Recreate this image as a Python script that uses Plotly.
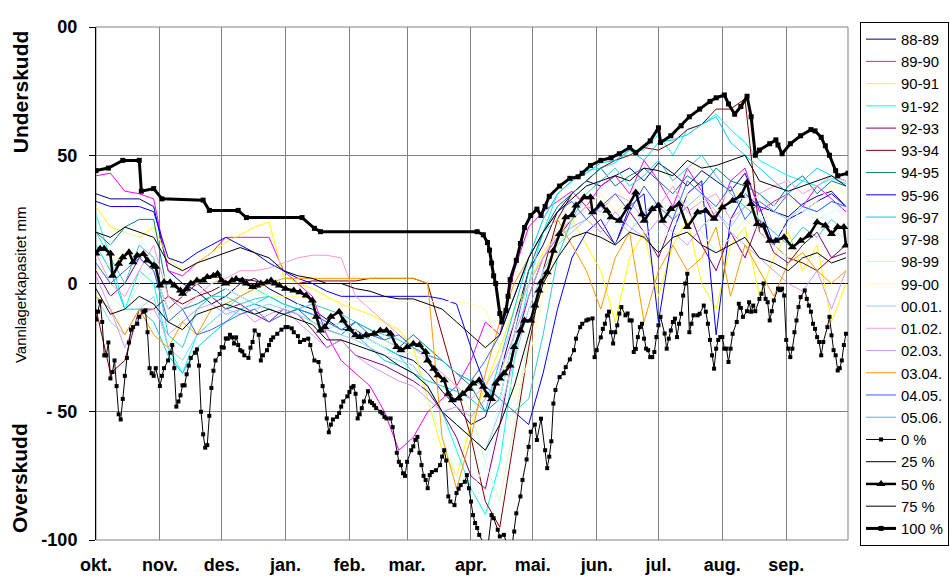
import plotly.graph_objects as go

FONT = "Arial, 'Liberation Sans', sans-serif"

# ---------------- axis categories ----------------
months = ["okt.", "nov.", "des.", "jan.", "feb.", "mar.", "apr.", "mai.", "jun.", "jul.", "aug.", "sep."]
month_start = [0, 31, 61, 92, 123, 151, 182, 212, 243, 273, 304, 335]
week_days = list(range(0, 365, 7))  # 53 weekly sample days (day 0 = 1. okt.)

y_tickvals = [-100, -50, 0, 50, 100]
y_ticktext = ["-100", "- 50", "0", "50", "00"]

# ---------------- yearly series (weekly readings) ----------------
year_names = ["88-89", "89-90", "90-91", "91-92", "92-93", "93-94", "94-95", "95-96", "96-97",
              "97-98", "98-99", "99-00", "00.01.", "01.02.", "02.03.", "03.04.", "04.05.", "05.06."]
year_colors = ["#000080", "#FF00FF", "#FFFF00", "#00FFFF", "#800080", "#800000", "#008080", "#0000FF",
               "#00CCFF", "#CCFFFF", "#CCFFCC", "#FFFF99", "#99CCFF", "#FF99CC", "#CC99FF", "#FF9900",
               "#3366FF", "#33CCCC"]

y8889 = [35,33,33,33,30,5,0,-3,-8,-5,0,2,-2,-5,-8,-10,-14,-18,-18,-22,-25,-28,-30,-35,-42,-48,-55,-52,-35,-15,5,15,28,35,40,38,42,45,40,47,43,38,44,40,36,43,30,28,26,31,34,36,30]
y8990 = [42,43,36,35,33,5,3,8,12,18,18,18,18,5,0,-5,-20,-30,-35,-40,-50,-65,-60,-50,-45,-40,-30,-15,-20,5,22,28,32,36,30,38,42,35,48,40,30,45,36,25,40,45,28,32,35,30,38,33,28]
y9091 = [30,22,20,18,22,10,5,8,12,16,19,22,24,3,0,-2,-5,-8,-10,-12,-15,-18,-25,-45,-65,-75,-55,-40,-25,-10,0,12,20,25,15,5,-15,10,20,-5,15,25,0,-10,15,22,-5,10,20,5,15,-15,0]
y9192 = [27,10,-10,5,0,-25,-35,-20,-15,-10,-5,-2,-5,-8,-10,-12,-15,-18,-20,-22,-25,-28,-35,-40,-50,-65,-80,-90,-70,-30,0,20,35,40,44,45,47,52,52,58,50,60,62,66,60,55,48,45,42,40,38,41,39]
y9293 = [5,-5,0,10,5,-10,-5,0,-5,-10,-8,-12,-15,-10,-12,-18,-25,-22,-28,-30,-32,-35,-38,-42,-50,-60,-75,-80,-55,-25,-5,10,18,25,30,22,15,28,20,10,25,30,15,5,20,10,25,12,8,15,20,10,12]
y9394 = [-10,-35,-30,-10,-10,-5,-8,-5,-3,0,2,1,0,0,0,1,1,1,1,2,2,2,2,0,-20,-40,-60,-85,-95,-60,-25,5,25,35,40,45,48,50,53,52,55,60,62,68,68,72,20,15,10,8,5,10,15]
y9495 = [20,15,22,25,25,-5,-10,-8,-5,-2,-5,-8,-10,-12,-10,-15,-18,-20,-15,-18,-22,-25,-20,-25,-30,-35,-40,-50,-45,-20,5,20,30,35,40,45,38,42,45,40,35,42,38,45,40,38,35,30,38,42,35,40,38]
y9596 = [32,30,30,30,28,10,8,12,15,18,15,12,8,5,2,0,-3,-5,-5,-5,-5,-5,-5,-5,-6,-8,-25,-40,-45,-50,-55,-35,-10,10,20,25,15,30,35,-15,20,35,40,-20,25,35,30,15,25,28,32,35,30]
y9697 = [15,5,-10,-10,-15,-28,-35,-25,-20,-15,-10,-8,-5,-8,-10,-12,-18,-15,-20,-25,-30,-32,-35,-38,-40,-42,-45,-50,-30,-10,10,25,35,40,43,47,48,52,48,55,56,58,62,65,55,50,45,40,35,40,45,42,40]
y9798 = [10,15,20,18,10,0,-5,-3,0,-2,-5,-8,-6,-10,-8,-12,-15,-18,-20,-22,-25,-30,-35,-45,-60,-75,-82,-70,-45,-20,0,10,20,25,30,28,22,30,25,20,28,32,25,20,30,35,25,20,22,30,25,28,30]
y9899 = [0,-5,-10,0,5,-10,-15,-10,-5,-8,-10,-12,-10,-8,-12,-15,-18,-15,-18,-20,-22,-25,-28,-30,-35,-40,-50,-70,-85,-55,-20,5,15,22,25,20,15,25,20,15,22,28,20,12,18,25,20,15,10,18,22,20,18]
y9900 = [5,8,12,10,5,0,-2,0,2,0,-2,-3,-5,-5,-5,-6,-6,-7,-7,-7,-7,-7,-7,-7,-7,-7,-8,-10,-25,-45,-30,-5,15,25,30,35,28,32,38,30,25,35,30,28,38,32,25,30,35,28,32,38,35]
y0001 = [-5,-15,-20,-10,-5,-25,-30,-20,-15,-10,-12,-10,-8,-10,-12,-15,-18,-20,-22,-25,-28,-30,-32,-40,-50,-55,-60,-65,-50,-30,-10,5,15,20,25,30,25,20,28,32,25,30,35,28,22,30,35,28,25,30,28,32,30]
y0102 = [12,0,-5,5,15,-5,-10,-5,0,2,5,5,6,8,10,11,11,10,-5,-10,-15,-20,-25,-30,-35,-40,-45,-40,-30,-15,0,10,20,25,30,28,35,32,25,30,38,28,32,35,25,30,35,38,40,35,38,42,40]
y0203 = [3,-10,-25,-12,-10,-20,-15,-10,-8,-12,-10,-15,-12,-10,-15,-20,-25,-22,-28,-32,-35,-38,-40,-45,-50,-48,-52,-45,-35,-20,-5,10,18,22,25,20,28,22,18,25,20,15,22,28,20,15,10,5,0,-3,5,-10,5]
y0304 = [-5,-10,-20,-10,-20,-25,-15,-20,-10,-8,-5,-2,0,2,2,2,2,2,2,2,2,2,2,0,-60,-80,-60,-35,-15,0,10,20,25,15,5,-10,10,20,-15,5,15,5,10,22,-5,15,5,-5,8,12,5,0,5]
y0405 = [8,0,5,10,5,-15,-10,-20,-18,-15,-12,-10,-15,-12,-10,-12,-15,-18,-15,-20,-22,-20,-25,-28,-30,-35,-38,-30,-20,-5,10,20,28,32,25,30,35,28,38,30,25,40,35,30,38,25,32,28,35,30,28,32,30]
y0506 = [20,10,0,15,10,-20,-25,-10,-5,-5,-8,-6,-5,-8,-10,-8,-10,-12,-15,-18,-20,-22,-25,-28,-30,-35,-38,-40,-45,-50,-45,-20,10,25,35,40,45,38,42,48,40,45,50,42,35,30,25,20,15,22,18,25,20]

year_values = [y8889, y8990, y9091, y9192, y9293, y9394, y9495, y9596, y9697,
               y9798, y9899, y9900, y0001, y0102, y0203, y0304, y0405, y0506]

# ---------------- percentile series ----------------
p25 = [-2,-12,-10,-5,-8,-15,-18,-12,-10,-8,-10,-12,-10,-12,-14,-16,-22,-22,-24,-26,-28,-32,-35,-40,-50,-55,-60,-65,-55,-40,-20,0,10,18,20,18,15,20,18,12,18,20,15,12,15,18,10,8,5,10,12,8,10]
p75 = [20,18,22,20,18,8,5,8,10,12,14,12,10,5,3,2,0,0,-2,-3,-5,-6,-6,-8,-10,-15,-20,-25,-20,-5,10,20,28,33,38,40,42,40,45,44,42,48,45,46,48,50,40,38,36,38,40,42,38]

p0_points = [(0,-14),(1,-11),(2,-7),(3,-15),(4,-28),(5,-28),(6,-23),(7,-37),(8,-34.5),(9,-30),(10,-40),(11,-51),(12,-53),(13,-45),(14,-36),(15,-29),(16,-23),(17,-18),(18,-17),(20,-15.7),(21,-13),(23,-11),(24,-10.5),(25,-19),(26,-33),(27,-35),(28,-36),(29,-33),(31,-40),(32,-36),(33,-33),(35,-30),(36,-27),(37,-24),(38,-33),(39,-48),(40,-46),(41,-43.6),(42,-39.7),(43,-39.7),(44,-35.4),(45,-32),(46,-29),(48,-27),(49,-25.7),(50,-32),(51,-50),(52,-58.8),(53,-64),(54,-63),(55,-51.6),(56,-40.7),(57,-34),(58,-30),(60,-27.5),(61,-24.8),(62,-25),(63,-21.4),(64,-21.5),(65,-20),(66,-21),(67,-23.4),(68,-21),(69,-24),(70,-26),(71,-26.5),(72,-28),(74,-29),(75,-25),(76,-22.8),(77,-18.3),(79,-20),(80,-30),(81,-28),(83,-26),(84,-24),(85,-22),(86,-21),(88,-19.6),(90,-18),(92,-17),(93,-17),(95,-17.5),(96,-19),(98,-20.5),(99,-22.8),(101,-22),(103,-21.5),(104,-24),(106,-30),(108,-30.6),(109,-34),(110,-40),(111,-43.6),(112,-52.6),(113,-58),(114,-55),(115,-53),(117,-52),(118,-50.5),(119,-48),(120,-46),(122,-44),(123,-42.3),(124,-40.6),(125,-40),(126,-43),(127,-52.6),(128,-51),(129,-48.6),(130,-46),(132,-42),(133,-46),(134,-46.6),(135,-47.5),(136,-48.6),(138,-50),(139,-50.6),(140,-52),(141,-52.6),(143,-52.6),(144,-56),(146,-66),(147,-69.5),(148,-70.8),(149,-74),(150,-75),(151,-69.5),(153,-65),(154,-63.5),(155,-61),(156,-59.8),(157,-66),(158,-70.8),(159,-75),(160,-76.6),(161,-79.8),(162,-74.7),(163,-73.5),(165,-72.8),(167,-70.8),(168,-67.5),(169,-65),(170,-69),(171,-83),(172,-85),(174,-86.4),(175,-81.7),(176,-80),(177,-78.6),(179,-77.3),(180,-74.7),(181,-79.8),(182,-85),(183,-90.3),(184,-93.4),(185,-95.3),(186,-98),(188,-101),(190,-104),(192,-90.3),(193,-91.5),(195,-96),(196,-98.6),(198,-98),(200,-103),(202,-102),(203,-96.7),(204,-89.6),(206,-83),(207,-76.6),(209,-68.6),(210,-63.7),(211,-57.8),(213,-55),(214,-61),(216,-52.7),(218,-65),(219,-72),(220,-67.5),(221,-61.5),(222,-46.8),(223,-41.5),(225,-36.5),(227,-35),(228,-32.6),(230,-29.6),(232,-26),(233,-21.5),(235,-17),(236,-15.7),(238,-14.4),(239,-14),(241,-13.6),(242,-28.7),(243,-26),(245,-21),(246,-17.7),(247,-15.7),(248,-12.5),(249,-11),(250,-19),(251,-23.4),(252,-19),(253,-16.3),(254,-11.7),(255,-9.2),(257,-12.4),(258,-11.7),(259,-14.4),(260,-14.4),(261,-26.7),(262,-25.5),(263,-20.9),(264,-17),(265,-15.7),(266,-21.5),(267,-25.4),(268,-26),(269,-28.7),(270,-28.7),(271,-26.7),(272,-20.9),(273,-16.3),(274,-13),(276,-19.5),(277,-25.4),(278,-21.5),(279,-18.3),(280,-15),(281,-13.7),(282,-20.9),(283,-15.7),(284,-11.8),(285,-4.7),(286,0),(287,3.8),(288,-19),(289,-15.7),(290,-12.4),(292,-12.4),(293,-11.8),(295,-8.6),(296,-11),(297,-15.7),(298,-22),(299,-28),(300,-33.2),(301,-25.4),(302,-22),(303,-20.9),(304,-20.9),(305,-25.4),(306,-25.4),(307,-30.6),(308,-25.4),(309,-19.6),(311,-15),(312,-7.9),(313,-9.5),(314,-13),(316,-10.8),(317,-7.3),(318,-11),(319,-8.6),(320,-10.8),(322,-6),(323,-4),(324,0),(325,-6),(326,-7.3),(327,-14.4),(328,-10.8),(329,-6.6),(331,-2),(332,-2.6),(333,-2),(334,-4.7),(335,-22),(336,-25.4),(337,-28.7),(338,-25.4),(339,-19),(340,-14.4),(341,-9.2),(342,-5.3),(344,-2.7),(345,-6),(346,-8.6),(347,-11),(348,-15.7),(349,-17.7),(350,-20.9),(351,-22.8),(352,-28),(353,-22.8),(355,-17),(356,-13),(357,-20.2),(358,-26),(359,-28),(360,-33.9),(361,-33),(362,-30),(363,-24),(364,-19.6)]

p50_points = [(0,11.7),(2,13.5),(4,13.5),(7,11.7),(8,3),(11,7.7),(13,10.2),(16,12.2),(18,8.3),(20,10.9),(23,11.5),(25,9),(28,7),(29,6.5),(31,-0.8),(33,0.5),(36,0.5),(38,-0.8),(41,-2.7),(42,-4),(44,-2),(46,0),(49,1.2),(52,1.2),(54,2.5),(57,3),(59,3.8),(61,1.2),(63,0),(66,1.2),(68,1.8),(71,1.2),(73,0),(76,-1.4),(78,-0.8),(80,0),(83,0.5),(85,1.2),(87,0),(89,-0.8),(92,-2),(96,-2.7),(99,-3.4),(102,-4.7),(105,-6.6),(107,-13),(109,-18.3),(111,-17),(114,-13),(118,-11),(120,-14.4),(123,-17.7),(126,-20.2),(128,-20.9),(131,-20.2),(135,-19.6),(138,-18.3),(141,-18.3),(143,-19.6),(146,-24.8),(148,-26),(151,-24.8),(154,-23.5),(157,-24),(160,-26.7),(161,-30),(164,-33.2),(166,-35.8),(169,-37.7),(171,-43),(173,-45.5),(176,-44.8),(178,-43),(181,-41),(183,-39),(186,-37.7),(188,-40.3),(190,-43.6),(192,-45),(194,-39),(196,-37),(198,-35),(201,-32),(203,-24.8),(206,-18.3),(208,-14.4),(211,-14.4),(213,-8.6),(215,-2.7),(216,0.5),(219,4.4),(222,12.8),(225,19.3),(228,25.8),(231,26.6),(233,30.4),(237,33.6),(240,33.6),(241,27.8),(245,31),(248,28.4),(250,25.8),(254,24.5),(258,29.7),(262,35.5),(265,27),(266,24.5),(270,29),(273,30.4),(275,24.5),(279,29),(283,31),(287,22),(292,27.8),(296,28.4),(300,25.2),(304,29.7),(309,32.3),(313,34.2),(316,39.4),(318,31),(321,23.2),(324,22.6),(327,16.7),(330,16.7),(334,18),(338,14.1),(342,16.7),(346,18.7),(350,23.9),(354,22.6),(357,19.3),(360,22),(363,22),(364,14.8)]

p100_days = [0,6,13,21,22,28,32,52,55,69,73,100,106,109,185,188,190,191,192,193,194,196,197,199,200,201,204,206,208,211,214,216,218,220,225,230,234,236,240,245,250,254,259,262,269,273,274,279,284,288,293,298,301,305,307,310,313,316,318,320,322,327,330,331,333,337,342,347,349,352,354,356,359,360,365]
p100_vals = [44,45,48,48,36,37,33,32.5,28.5,28.5,25.7,25.7,21.5,20.2,20.2,19,16,13,8,3,0,-11.7,-15,-10.5,-5,1.5,9,15.6,21.8,26.5,29,26.5,30,34,38,41,41.6,43,46,48,49,50.6,53,51,55.6,60.7,55,57.6,61.5,65,68,71,72.4,73.5,70,66,69,73,65,50,52,54.5,56,54,50.6,54.5,57.6,60,59.5,57,53.7,50,44,42,43]

# ---------------- figure ----------------
fig = go.Figure()

for name, color, vals in zip(year_names, year_colors, year_values):
    fig.add_trace(go.Scatter(x=week_days, y=vals, name=name, mode="lines",
                             line=dict(color=color, width=1)))

fig.add_trace(go.Scatter(x=[d for d, v in p0_points], y=[v for d, v in p0_points], name="0 %",
                         mode="lines+markers", line=dict(color="black", width=1),
                         marker=dict(symbol="square", size=4, color="black")))
fig.add_trace(go.Scatter(x=week_days, y=p25, name="25 %", mode="lines",
                         line=dict(color="black", width=1)))
fig.add_trace(go.Scatter(x=[d for d, v in p50_points], y=[v for d, v in p50_points], name="50 %",
                         mode="lines+markers", line=dict(color="black", width=2.5),
                         marker=dict(symbol="triangle-up", size=8, color="black")))
fig.add_trace(go.Scatter(x=week_days, y=p75, name="75 %", mode="lines",
                         line=dict(color="black", width=1)))
fig.add_trace(go.Scatter(x=p100_days, y=p100_vals, name="100 %",
                         mode="lines+markers", line=dict(color="black", width=3),
                         marker=dict(symbol="square", size=5, color="black")))

fig.update_layout(
    width=950, height=582,
    margin=dict(l=96, r=102, t=27, b=42, autoexpand=False),
    paper_bgcolor="white", plot_bgcolor="white",
    font=dict(family=FONT, color="black"),
    showlegend=True,
    legend=dict(x=1.016, y=1.0097, xanchor="left", yanchor="top",
                font=dict(family=FONT, size=14.8, color="black"),
                bordercolor="black", borderwidth=1, bgcolor="white",
                tracegroupgap=0, itemwidth=30, maxheight=600),
    xaxis=dict(range=[0, 365], tickmode="array", tickvals=month_start, ticktext=months,
               tickfont=dict(family=FONT, size=18, color="black", weight="bold"),
               showgrid=True, gridcolor="#808080", gridwidth=1,
               zeroline=False, showline=False, ticks="", ticklabelstandoff=12),
    yaxis=dict(range=[-100, 100], tickmode="array", tickvals=y_tickvals, ticktext=y_ticktext,
               tickfont=dict(family=FONT, size=18, color="black", weight="bold"),
               showgrid=True, gridcolor="#808080", gridwidth=1,
               zeroline=True, zerolinecolor="black", zerolinewidth=1,
               showline=True, linecolor="black", linewidth=1,
               ticks="outside", ticklen=6, tickcolor="black", ticklabelstandoff=8),
    shapes=[dict(type="rect", xref="paper", yref="paper", x0=0, y0=0, x1=1, y1=1,
                 line=dict(color="#808080", width=1), layer="below")],
    annotations=[
        dict(text="Underskudd", xref="paper", yref="paper", x=-0.101, y=0.873,
             textangle=-90, showarrow=False, xanchor="center", yanchor="middle",
             font=dict(family=FONT, size=21, color="black", weight="bold")),
        dict(text="Vannlagerkapasitet mm", xref="paper", yref="paper", x=-0.101, y=0.497,
             textangle=-90, showarrow=False, xanchor="center", yanchor="middle",
             font=dict(family=FONT, size=15, color="black")),
        dict(text="Overskudd", xref="paper", yref="paper", x=-0.101, y=0.121,
             textangle=-90, showarrow=False, xanchor="center", yanchor="middle",
             font=dict(family=FONT, size=21, color="black", weight="bold")),
    ],
)

fig.write_html("out.html")
